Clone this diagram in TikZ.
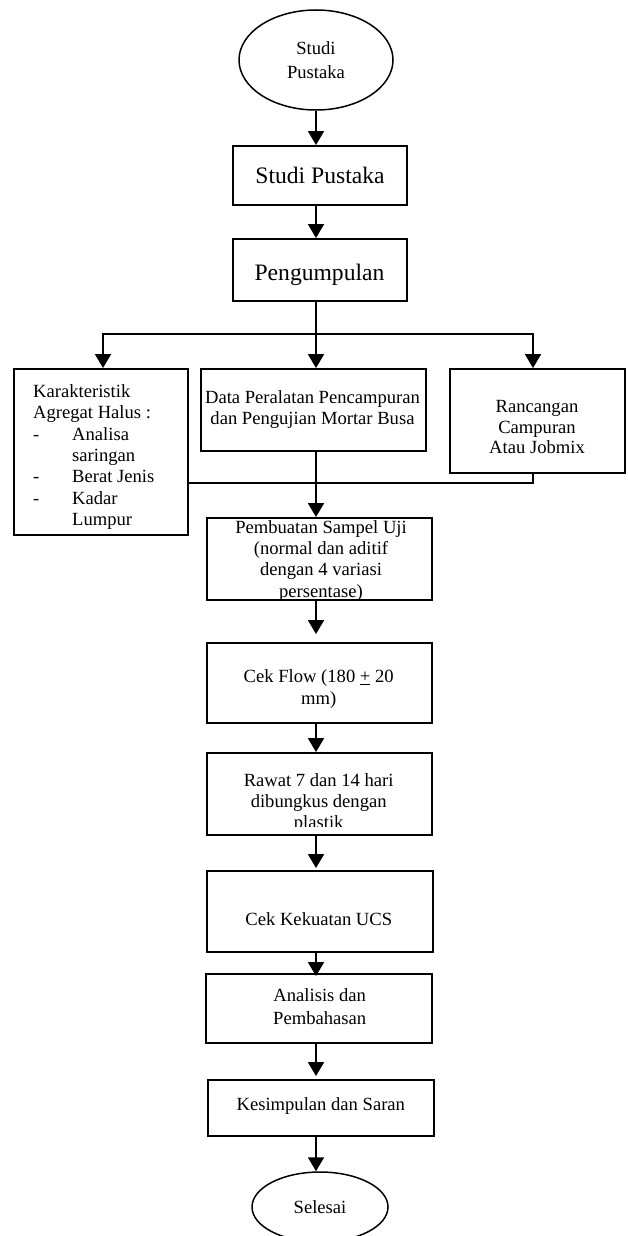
\documentclass[tikz,border=0pt]{standalone}
\usepackage{fontspec}
\setmainfont{Liberation Serif}
\usetikzlibrary{arrows.meta,shapes.geometric,fit}
\begin{document}
\begin{tikzpicture}[x=1pt,y=-1pt,
  box/.style={draw, rectangle, line width=1.9pt, inner sep=0pt},
  oval/.style={draw, ellipse, line width=1.5pt, inner sep=0pt, align=center,
    font=\fontsize{18.6}{24}\selectfont},
  txt/.style={inner sep=0pt, align=center, font=\fontsize{18.6}{21.3}\selectfont},
  big/.style={inner sep=0pt, font=\fontsize{23.6}{27}\selectfont},
  conn/.style={line width=1.9pt, line cap=rect},
  arr/.style={line width=1.9pt, -{Triangle[width=16pt,length=14pt]}}]
\useasboundingbox (0,0) rectangle (627,1236);
\coordinate (cx) at (316,0);
% start ellipse
\node[oval, minimum width=154pt, minimum height=100pt] (e1) at (316,60) {Studi\\Pustaka};
% boxes
\node[box, fit={(233,146) (407,205)}] (b1) {};
\node[big, anchor=base] (t1) at (320,183) {Studi Pustaka};
\node[box, fit={(233,239) (407,301)}] (b2) {};
\node[big, anchor=base] (t2) at (319.5,280) {Pengumpulan};
\node[box, fit={(14,369) (188,535)}] (L) {};
\node[txt, align=left, anchor=west] (tL) at (33,457) {Karakteristik\\Agregat Halus :\\\makebox[39pt][l]{-}Analisa\\\hspace*{39pt}saringan\\\makebox[39pt][l]{-}Berat Jenis\\\makebox[39pt][l]{-}Kadar\\\hspace*{39pt}Lumpur};
\node[box, fit={(201,369) (426,451)}] (M) {};
\node[txt] (tM) at (312.5,409.6) {Data Peralatan Pencampuran\\dan Pengujian Mortar Busa};
\node[box, fit={(450,369) (625,473)}] (R) {};
\node[txt, font=\fontsize{18.6}{20.6}\selectfont] (tR) at (537,427) {Rancangan\\Campuran\\Atau Jobmix};
\node[box, fit={(207,518) (432,600)}] (P) {};
\begin{scope}
\clip (207,518) rectangle (432,598);
\node[txt] (tP) at (321,560.6) {Pembuatan Sampel Uji\\(normal dan aditif\\dengan 4 variasi\\persentase)};
\end{scope}
\node[box, fit={(207,643) (432,723)}] (F) {};
\node[txt] (tF) at (318.7,689) {Cek Flow (180 \underline{+} 20\\mm)};
\node[box, fit={(207,753) (432,835)}] (W) {};
\begin{scope}
\clip (207,753) rectangle (432,826.5);
\node[txt] (tW) at (318.7,803) {Rawat 7 dan 14 hari\\dibungkus dengan\\plastik};
\end{scope}
\node[box, fit={(207,871) (433,952)}] (U) {};
\node[txt, anchor=base] (tU) at (318.8,925) {Cek Kekuatan UCS};
\node[box, fit={(206,974) (432,1043)}] (A) {};
\node[txt, font=\fontsize{18.6}{23}\selectfont] (tA) at (319.7,1006.5) {Analisis dan\\Pembahasan};
\node[box, fit={(208,1080) (434,1136)}] (K) {};
\node[txt, anchor=base] (tK) at (320.8,1110) {Kesimpulan dan Saran};
\node[oval, minimum width=136pt, minimum height=70pt] (e2) at (320,1207) {Selesai};
% connectors
\draw[arr] (e1.south) -- (b1.north -| e1.south);
\draw[arr] (b1.south -| cx) -- (b2.north -| cx);
\coordinate (j) at (316,334);
\coordinate (jl) at (103,334);
\coordinate (jr) at (533,334);
\draw[conn] (b2.south -| cx) -- (j);
\draw[conn] (jl) -- (jr);
\draw[arr] (jl) -- (L.north -| jl);
\draw[arr] (j) -- (M.north -| j);
\draw[arr] (jr) -- (R.north -| jr);
\coordinate (mr) at (533,483);
\draw[conn] (L.east |- mr) -- (mr) -- (R.south -| mr);
\draw[arr] (M.south -| cx) -- (P.north -| cx);
\draw[arr, shorten >=8pt] (P.south -| cx) -- (F.north -| cx);
\draw[arr] (F.south -| cx) -- (W.north -| cx);
\draw[arr, shorten >=2pt] (W.south -| cx) -- (U.north -| cx);
\draw[arr, shorten >=-3pt] (U.south -| cx) -- (A.north -| cx);
\draw[arr, shorten >=3pt] (A.south -| cx) -- (K.north -| cx);
\draw[arr] (K.south -| cx) -- (e2.north -| cx);
\end{tikzpicture}
\end{document}
